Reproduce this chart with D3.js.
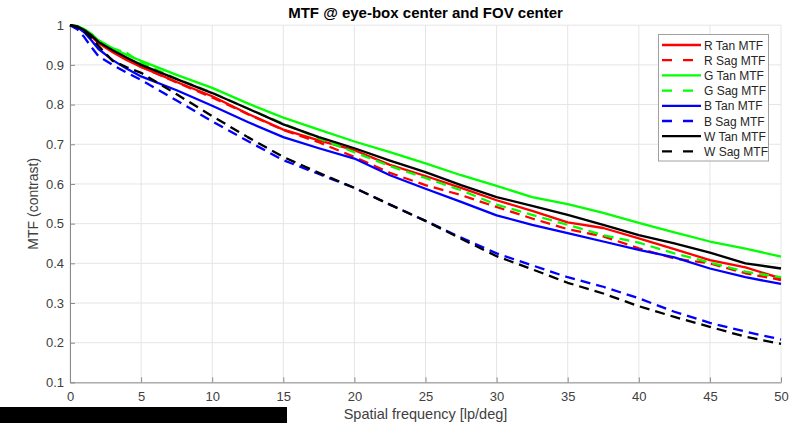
<!DOCTYPE html>
<html><head><meta charset="utf-8">
<script src="https://cdn.jsdelivr.net/npm/d3@7"></script>
<style>html,body{margin:0;padding:0;background:#fff;}svg{display:block;font-family:"Liberation Sans",Arial,sans-serif;}</style>
</head><body>
<svg id="c" width="808" height="423"></svg>
<script>
const freq   = [0,0.5,1,1.5,2,3,4,5,7.5,10,12.5,15,17.5,20,22.5,25,27.5,30,32.5,35,37.5,40,42.5,45,47.5,50];
const rTan = [1,0.997,0.987,0.972,0.955,0.932,0.912,0.895,0.857,0.821,0.777,0.737,0.71,0.685,0.648,0.62,0.59,0.559,0.532,0.503,0.489,0.463,0.436,0.408,0.39,0.362];
const rSag = [1,0.997,0.988,0.974,0.957,0.935,0.915,0.895,0.856,0.818,0.776,0.736,0.705,0.668,0.628,0.597,0.572,0.542,0.513,0.486,0.468,0.438,0.412,0.4,0.375,0.358];
const gTan = [1,0.998,0.99,0.978,0.962,0.942,0.925,0.91,0.875,0.842,0.803,0.767,0.737,0.707,0.68,0.652,0.622,0.595,0.567,0.549,0.527,0.502,0.478,0.455,0.437,0.417];
const gSag = [1,0.997,0.99,0.978,0.962,0.942,0.93,0.905,0.865,0.83,0.79,0.752,0.715,0.68,0.645,0.615,0.584,0.548,0.522,0.497,0.471,0.452,0.425,0.402,0.379,0.365];
const bTan = [1,0.995,0.982,0.962,0.94,0.912,0.89,0.871,0.836,0.797,0.756,0.718,0.69,0.664,0.622,0.588,0.555,0.521,0.497,0.476,0.455,0.434,0.415,0.387,0.365,0.348];
const bSag = [1,0.99,0.97,0.945,0.922,0.9,0.88,0.862,0.81,0.758,0.708,0.66,0.625,0.59,0.548,0.507,0.465,0.425,0.395,0.365,0.341,0.312,0.278,0.25,0.228,0.208];
const wTan = [1,0.997,0.988,0.975,0.958,0.937,0.918,0.9,0.864,0.829,0.79,0.75,0.718,0.69,0.659,0.63,0.597,0.567,0.545,0.522,0.497,0.471,0.45,0.427,0.4,0.387];
const wSag = [1,0.995,0.985,0.968,0.948,0.91,0.894,0.88,0.826,0.771,0.718,0.668,0.628,0.59,0.548,0.507,0.462,0.418,0.385,0.351,0.324,0.292,0.265,0.24,0.215,0.197];
const seriesNames = ["R Tan MTF","R Sag MTF","G Tan MTF","G Sag MTF","B Tan MTF","B Sag MTF","W Tan MTF","W Sag MTF"];
const seriesValues = [rTan,rSag,gTan,gSag,bTan,bSag,wTan,wSag];
const seriesColors = ["#ff0000","#ff0000","#00ff00","#00ff00","#0000ff","#0000ff","#000000","#000000"];
const seriesDashed = [false,true,false,true,false,true,false,true];
const xTicks = [0,5,10,15,20,25,30,35,40,45,50];
const yTicks = [0.1,0.2,0.3,0.4,0.5,0.6,0.7,0.8,0.9,1];
const titleText = "MTF @ eye-box center and FOV center";
const xLabel = "Spatial frequency [lp/deg]";
const yLabel = "MTF (contrast)";

const svg = d3.select("#c");
const L=70, R=781, T=25.2, B=382.4;
const x = d3.scaleLinear().domain([0,50]).range([L,R]);
const y = d3.scaleLinear().domain([0.1,1]).range([B,T]);

// grid
const g = svg.append("g");
g.selectAll(".gx").data(xTicks).enter().append("line")
  .attr("x1",d=>x(d)).attr("x2",d=>x(d)).attr("y1",T).attr("y2",B)
  .attr("stroke","#e5e5e5").attr("stroke-width",1);
g.selectAll(".gy").data(yTicks).enter().append("line")
  .attr("y1",d=>y(d)).attr("y2",d=>y(d)).attr("x1",L).attr("x2",R)
  .attr("stroke","#e5e5e5").attr("stroke-width",1);

// axes
const xAxis = d3.axisBottom(x).tickValues(xTicks).tickFormat(d3.format("d")).tickSizeInner(-5).tickSizeOuter(0).tickPadding(9);
const yAxis = d3.axisLeft(y).tickValues(yTicks).tickFormat(d=>d===1?"1":d3.format(".1f")(d)).tickSizeInner(-5).tickSizeOuter(0).tickPadding(6);
const gx = svg.append("g").attr("transform",`translate(0,${B})`).call(xAxis);
const gy = svg.append("g").attr("transform",`translate(${L},0)`).call(yAxis);
[gx,gy].forEach(a=>{
  a.select(".domain").attr("stroke","#8a8a8a").attr("stroke-width",1);
  a.selectAll(".tick line").attr("stroke","#8a8a8a");
  a.selectAll(".tick text").attr("fill","#404040").style("font-size","13px").style("font-family","'Liberation Sans',Arial,sans-serif");
});

// lines
const line = d3.line().x((d,i)=>x(freq[i])).y(d=>y(d));
const lg = svg.append("g");
seriesValues.forEach((vals,k)=>{
  lg.append("path").datum(vals).attr("d",line).attr("fill","none")
    .attr("stroke",seriesColors[k]).attr("stroke-width",2.3)
    .attr("stroke-linejoin","round")
    .attr("stroke-dasharray",seriesDashed[k]?"10,6":null);
});

// title & labels
svg.append("text").attr("x",(L+R)/2).attr("y",18).attr("text-anchor","middle")
  .style("font-size","15px").style("font-weight","bold").attr("fill","#000").text(titleText);
svg.append("text").attr("x",(L+R)/2).attr("y",419).attr("text-anchor","middle")
  .style("font-size","14.5px").attr("fill","#404040").text(xLabel);
svg.append("text").attr("transform",`translate(38,${(T+B)/2}) rotate(-90)`).attr("text-anchor","middle")
  .style("font-size","14px").attr("fill","#404040").text(yLabel);

// legend
const lgd = svg.append("g");
lgd.append("rect").attr("x",658.5).attr("y",34.5).attr("width",110).attr("height",126.5)
  .attr("fill","#fff").attr("stroke","#a0a0a0").attr("stroke-width",1);
seriesNames.forEach((n,k)=>{
  const yy = 45 + k*15.2;
  lgd.append("line").attr("x1",662).attr("x2",701).attr("y1",yy).attr("y2",yy)
    .attr("stroke",seriesColors[k]).attr("stroke-width",2.3)
    .attr("stroke-dasharray",seriesDashed[k]?"10,11":null);
  lgd.append("text").attr("x",704).attr("y",yy+4.5).style("font-size","12px").attr("fill","#262626").text(n);
});

// redaction bar
svg.append("rect").attr("x",0).attr("y",407).attr("width",287).attr("height",16).attr("fill","#000");
</script>
</body></html>
